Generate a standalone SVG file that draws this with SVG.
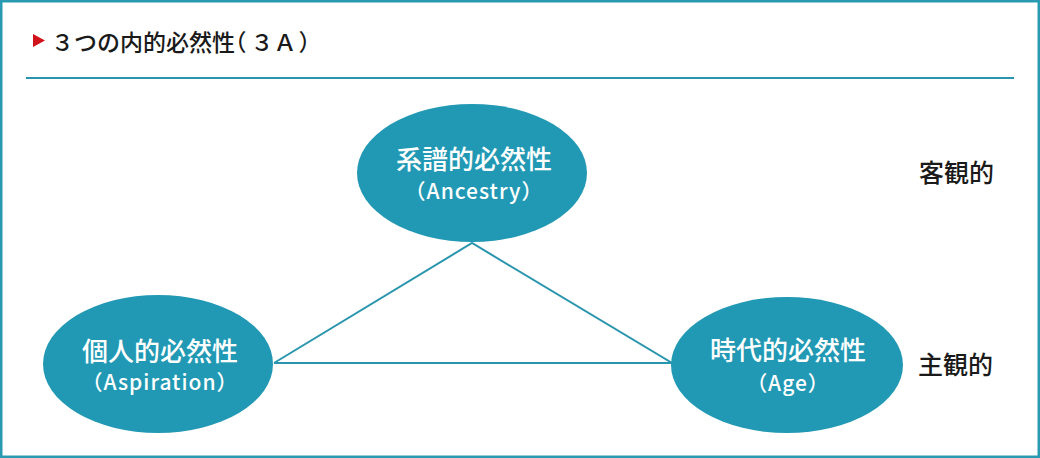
<svg xmlns="http://www.w3.org/2000/svg" width="1040" height="458" viewBox="0 0 1040 458">
<style>
.node{fill:#2299b4}
.conn{stroke:#2a95ae;stroke-width:2;fill:none}
.jp{font-family:"Noto Sans CJK JP","Noto Sans",sans-serif;fill:#ffffff;text-anchor:middle;font-size:26px;font-weight:500}
.en{font-family:"Noto Sans CJK JP","Noto Sans",sans-serif;fill:#ffffff;text-anchor:middle;font-size:21px;font-weight:500;letter-spacing:1px;font-feature-settings:"halt"}
.side{font-family:"Noto Sans CJK JP","Noto Sans",sans-serif;fill:#1a1a1a;font-size:25px;font-weight:500}
.title{font-family:"Noto Sans CJK JP","Noto Sans",sans-serif;fill:#1a1a1a;font-size:23px;font-weight:500;font-feature-settings:"halt"}
</style>
<rect x="1.25" y="1.25" width="1037.5" height="455.5" fill="#ffffff" stroke="#2a9ab2" stroke-width="2.5"/>
<g id="title">
<polygon points="33,34 45,40.5 33,47" fill="#d0121b"/>
<text class="title" x="51" y="51">３つの内的必然性（<tspan dx="4">３Ａ</tspan><tspan dx="2">）</tspan></text>
<line x1="26" y1="78" x2="1014" y2="78" stroke="#2a95ae" stroke-width="2"/>
</g>
<g id="connectors">
<polyline class="conn" points="274,363 472,243 672,363 274,363"/>
</g>
<g id="node-ancestry">
<ellipse class="node" cx="472" cy="173" rx="115" ry="69"/>
<text class="jp" x="474" y="169">系譜的必然性</text>
<text class="en" x="474" y="199">（Ancestry）</text>
</g>
<g id="node-aspiration">
<ellipse class="node" cx="158" cy="364" rx="115" ry="69"/>
<text class="jp" x="160" y="361">個人的必然性</text>
<text class="en" x="160" y="390">（Aspiration）</text>
</g>
<g id="node-age">
<ellipse class="node" cx="787" cy="365" rx="116" ry="68"/>
<text class="jp" x="788" y="360">時代的必然性</text>
<text class="en" x="788" y="391">（Age）</text>
</g>
<g id="label-objective">
<text class="side" x="919" y="182">客観的</text>
</g>
<g id="label-subjective">
<text class="side" x="918" y="374">主観的</text>
</g>
</svg>
